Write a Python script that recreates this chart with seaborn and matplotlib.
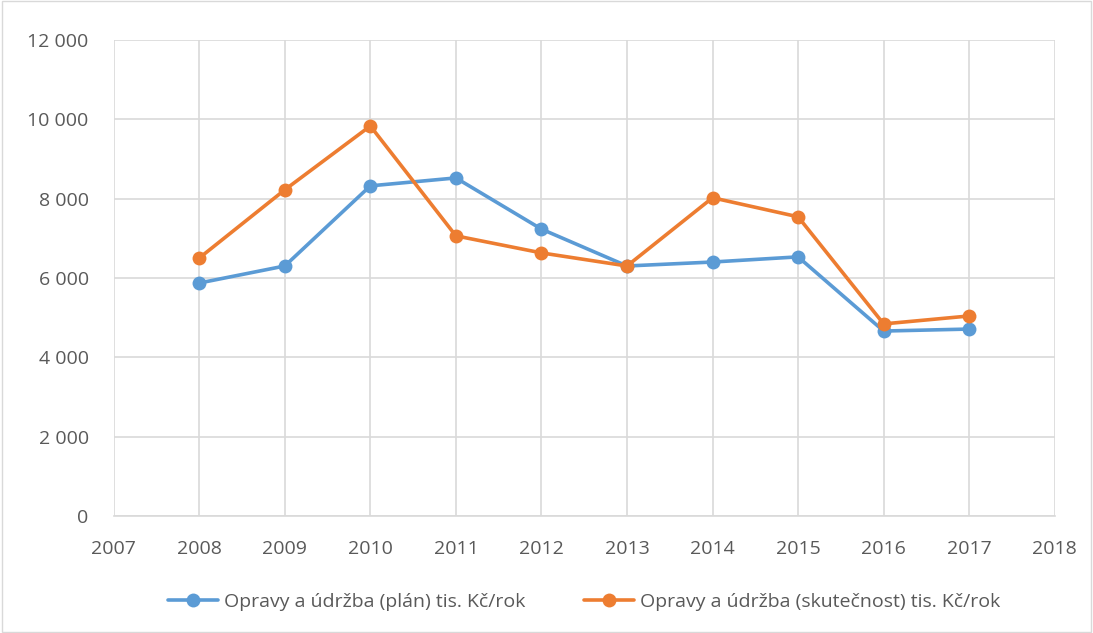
import numpy as np
import pandas as pd
import matplotlib.pyplot as plt
import seaborn as sns
from matplotlib.ticker import FuncFormatter

roky = [2008, 2009, 2010, 2011, 2012, 2013, 2014, 2015, 2016, 2017]
plan = [5870, 6300, 8320, 8520, 7230, 6300, 6400, 6530, 4660, 4710]
skutecnost = [6500, 8220, 9830, 7060, 6630, 6300, 8020, 7540, 4840, 5040]

nazev_plan = "Opravy a údržba (plán) tis. Kč/rok"
nazev_skut = "Opravy a údržba (skutečnost) tis. Kč/rok"

df = pd.DataFrame({"rok": roky, nazev_plan: plan, nazev_skut: skutecnost})
df = df.melt(id_vars="rok", var_name="rada", value_name="hodnota")

sns.set_style("white")
plt.rcParams['font.family'] = ['Open Sans', 'DejaVu Sans']

fig = plt.figure(figsize=(10.93, 6.33), dpi=100)
ax = fig.add_axes([0.104, 0.185, 0.861, 0.752])

sns.lineplot(data=df, x="rok", y="hodnota", hue="rada",
             palette=["#5b9bd5", "#ed7d31"], marker="o", markersize=10,
             markeredgewidth=0, linewidth=2.6, ax=ax, legend=True)

ax.set_xlim(2007, 2018)
ax.set_ylim(0, 12000)
ax.set_xticks(range(2007, 2019))
ax.set_yticks(range(0, 12001, 2000))
ax.yaxis.set_major_formatter(FuncFormatter(lambda v, p: f"{int(v):,}".replace(",", " ")))
ax.grid(True, color="#d9d9d9", linewidth=1.2)
ax.set_axisbelow(True)
for s in ["top", "right", "left"]:
    ax.spines[s].set_visible(False)
ax.spines["bottom"].set_color("#d9d9d9")
ax.spines["bottom"].set_linewidth(1.2)
ax.tick_params(axis="both", length=0, labelsize=14, colors="#595959")
ax.tick_params(axis="x", pad=17)
ax.tick_params(axis="y", pad=18)
ax.set_xlabel("")
ax.set_ylabel("")

ax.legend(loc="upper center", bbox_to_anchor=(0.5, -0.125), ncol=2, frameon=False,
          fontsize=14, labelcolor="#595959", handlelength=2.6, columnspacing=3,
          handletextpad=0.3)

fig.patches.append(plt.Rectangle((0.002, 0.002), 0.996, 0.996, transform=fig.transFigure,
                                 fill=False, edgecolor="#d9d9d9", linewidth=1))

fig.savefig("out.png", dpi=100)
